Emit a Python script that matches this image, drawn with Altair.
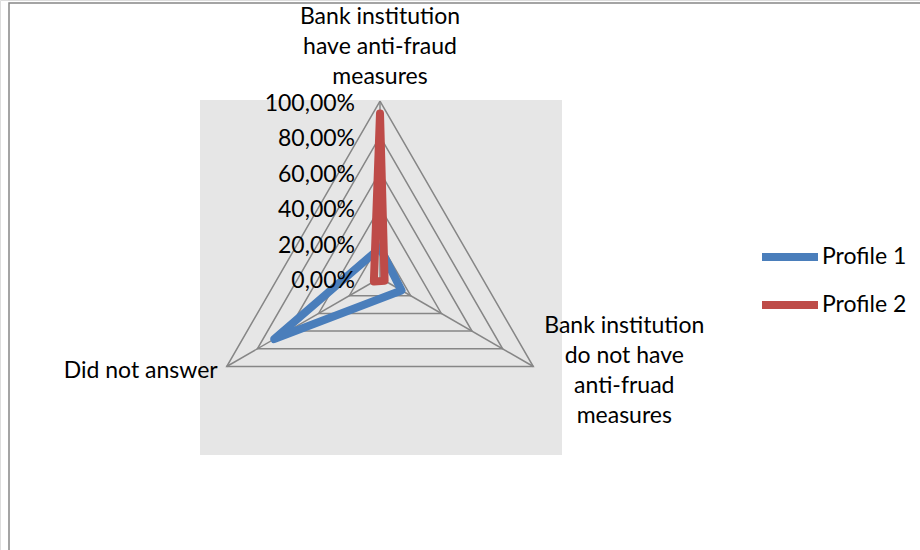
import altair as alt
import numpy as np
import pandas as pd

# Radar axes, listed clockwise from the top
categories = [
    "Bank institution have anti-fraud measures",
    "Bank institution do not have anti-fruad measures",
    "Did not answer",
]
category_lines = [
    ["Bank institution", "have anti-fraud", "measures"],
    ["Bank institution", "do not have", "anti-fruad", "measures"],
    ["Did not answer"],
]
series = ["Profile 1", "Profile 2"]
profile_1 = [0.17, 0.14, 0.69]
profile_2 = [0.93, 0.03, 0.04]
ticks = [0.0, 0.2, 0.4, 0.6, 0.8, 1.0]
tick_labels = ["0,00%", "20,00%", "40,00%", "60,00%", "80,00%", "100,00%"]
colors = ["#4A7EBB", "#BE4B48"]

FONT = "Lato"
FS = 23
GRID = "#868686"
W, H = 920, 550
CX, CY, R = 380, 278, 177  # centre and 100% radius in pixels

angles = np.deg2rad([90, -30, 210])


def polar(value, k):
    return value * np.cos(angles[k]), value * np.sin(angles[k])


x_scale = alt.Scale(domain=[-CX / R, (W - CX) / R], nice=False, zero=False)
y_scale = alt.Scale(domain=[-(H - CY) / R, CY / R], nice=False, zero=False)
X = lambda f: alt.X(f, type="quantitative", scale=x_scale, axis=None)
Y = lambda f: alt.Y(f, type="quantitative", scale=y_scale, axis=None)

# Series polygons (closed by repeating the first vertex)
rows = []
for name, vals in zip(series, [profile_1, profile_2]):
    for i, k in enumerate([0, 1, 2, 0]):
        x, y = polar(vals[k], k)
        rows.append({"series": name, "order": i, "x": x, "y": y})
series_df = pd.DataFrame(rows)

# Grid rings and spokes
ring_rows = []
for lvl in ticks[1:]:
    for i, k in enumerate([0, 1, 2, 0]):
        x, y = polar(lvl, k)
        ring_rows.append({"level": lvl, "order": i, "x": x, "y": y})
ring_df = pd.DataFrame(ring_rows)

spoke_df = pd.DataFrame(
    [{"x": 0.0, "y": 0.0, "x2": polar(1, k)[0], "y2": polar(1, k)[1]} for k in range(3)]
)

tick_df = pd.DataFrame({"x": 0.0, "y": ticks, "label": tick_labels})

background = alt.Chart(pd.DataFrame({"a": [0]})).mark_rect(color="#E6E6E6").encode(
    x=alt.value(200), x2=alt.value(562), y=alt.value(100), y2=alt.value(455)
)
frame = alt.Chart(pd.DataFrame({"a": [0]})).mark_rect(
    fill=None, stroke=GRID, strokeWidth=1.5
).encode(x=alt.value(9), x2=alt.value(960), y=alt.value(3), y2=alt.value(600))

rings = alt.Chart(ring_df).mark_line(color=GRID, strokeWidth=1.5).encode(
    x=X("x"), y=Y("y"), detail="level:N", order="order:Q"
)
spokes = alt.Chart(spoke_df).mark_rule(color=GRID, strokeWidth=1.5).encode(
    x=X("x"), y=Y("y"), x2="x2", y2="y2"
)

lines = alt.Chart(series_df).mark_line(
    strokeWidth=8, strokeJoin="round", strokeCap="round"
).encode(
    x=X("x"),
    y=Y("y"),
    order="order:Q",
    color=alt.Color(
        "series:N",
        scale=alt.Scale(domain=series, range=colors),
        legend=alt.Legend(
            title=None,
            orient="none",
            legendX=758,
            legendY=225,
            symbolType="stroke",
            symbolStrokeWidth=8,
            symbolSize=3136,
            labelFont=FONT,
            labelFontSize=FS,
            labelColor="black",
            labelOffset=0,
            rowPadding=-14,
            padding=0,
        ),
    ),
)

tick_text = alt.Chart(tick_df).mark_text(
    font=FONT, fontSize=FS, align="right", baseline="middle", dx=-25, dy=3, color="black"
).encode(x=X("x"), y=Y("y"), text="label:N")

label_styles = [
    dict(align="center", dx=0, dy=-84),
    dict(align="center", dx=91, dy=-41),
    dict(align="right", dx=-9, dy=4),
]
label_layers = []
for k, (lines_k, style) in enumerate(zip(category_lines, label_styles)):
    x, y = polar(1, k)
    df = pd.DataFrame({"x": [x], "y": [y], "text": [lines_k], "category": [categories[k]]})
    label_layers.append(
        alt.Chart(df).mark_text(
            font=FONT, fontSize=FS, baseline="middle", lineHeight=30, color="black", **style
        ).encode(x=X("x"), y=Y("y"), text="text")
    )

chart = alt.layer(
    background, frame, rings, spokes, lines, tick_text, *label_layers
).properties(
    width=W, height=H, padding=0, autosize=alt.AutoSizeParams(type="none")
).configure_view(stroke=None).configure(background="white")

chart.save("out.html", embed_options={"renderer": "svg", "actions": False})
